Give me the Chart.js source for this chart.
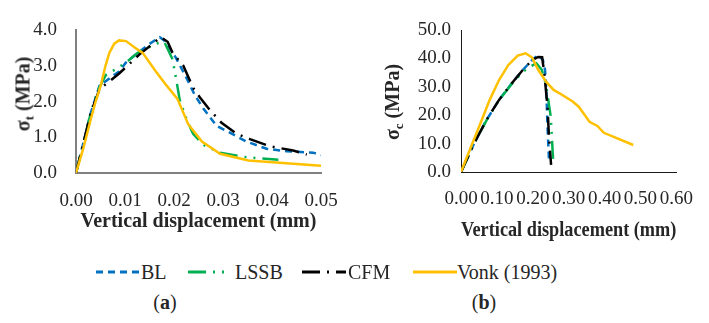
<!DOCTYPE html>
<html><head><meta charset="utf-8">
<script src="https://cdn.jsdelivr.net/npm/chart.js@4"></script>
<style>
html,body{margin:0;padding:0;background:#fff;}
#wrap{position:relative;width:709px;height:323px;overflow:hidden;font-family:'Liberation Serif','Times New Roman',serif;color:#262626;}
canvas{position:absolute;}
.ytitle{position:absolute;transform:translate(-50%,-50%) rotate(-90deg);white-space:nowrap;font-weight:bold;font-size:20px;line-height:1;font-family:'Liberation Serif',serif;}
.ytitle sub{font-size:13px;vertical-align:-4px;}
.lg{position:absolute;top:261px;font-size:20px;line-height:22px;white-space:nowrap;font-family:'Liberation Serif',serif;}
.ls{position:absolute;top:268px;}
.cap{position:absolute;top:290px;font-size:20px;line-height:24px;transform:translateX(-50%);font-family:'Liberation Serif',serif;}
</style></head>
<body><div id="wrap">
<canvas id="ca" width="355" height="240" style="left:0;top:0"></canvas>
<canvas id="cb" width="349" height="250" style="left:360px;top:0"></canvas>
<div class="ytitle" style="left:24px;top:94px">σ<sub>t</sub> (MPa)</div>
<div class="ytitle" style="left:393px;top:102px">σ<sub>c</sub> (MPa)</div>

<svg class="ls" style="left:96px" width="44" height="8"><line x1="0" y1="4" x2="44" y2="4" stroke="#0070C0" stroke-width="3" stroke-dasharray="7,5"/></svg>
<div class="lg" style="left:141px">BL</div>
<svg class="ls" style="left:188px" width="40" height="8"><line x1="0" y1="4" x2="40" y2="4" stroke="#00B050" stroke-width="3" stroke-dasharray="18,7,2,7,2,7"/></svg>
<div class="lg" style="left:235px">LSSB</div>
<svg class="ls" style="left:302px" width="44" height="8"><line x1="0" y1="4" x2="44" y2="4" stroke="#000000" stroke-width="3" stroke-dasharray="18,7,2,7"/></svg>
<div class="lg" style="left:348px">CFM</div>
<svg class="ls" style="left:413px" width="44" height="8"><line x1="0" y1="4" x2="44" y2="4" stroke="#FFC000" stroke-width="3"/></svg>
<div class="lg" style="left:457px">Vonk (1993)</div>

<div class="cap" style="left:165px">(<b>a</b>)</div>
<div class="cap" style="left:484px">(<b>b</b>)</div>
</div>
<script>
// ---- Chart (a): tensile ----
const seriesNames = ['BL', 'LSSB', 'CFM', 'Vonk (1993)'];
const aXTicks = ['0.00','0.01','0.02','0.03','0.04','0.05'];
const aYTicks = ['0.0','1.0','2.0','3.0','4.0'];
const aBL_x = [0, 0.0030, 0.0048, 0.0068, 0.0088, 0.0102, 0.0126, 0.0150, 0.0171, 0.0180, 0.0204, 0.0229, 0.0243, 0.0260, 0.0287, 0.0314, 0.0348, 0.0389, 0.0430, 0.0484, 0.0500];
const aBL_y = [0, 1.68, 2.45, 2.65, 2.85, 3.10, 3.37, 3.62, 3.81, 3.72, 3.23, 2.57, 2.17, 1.81, 1.32, 1.13, 0.88, 0.68, 0.61, 0.57, 0.50];
const aLSSB_x = [0, 0.0030, 0.0044, 0.0061, 0.0082, 0.0102, 0.0126, 0.0163, 0.0180, 0.0197, 0.0204, 0.0212, 0.0226, 0.0239, 0.0260, 0.0294, 0.0348, 0.0413];
const aLSSB_y = [0, 1.68, 2.30, 2.75, 2.92, 3.10, 3.37, 3.63, 3.68, 3.19, 2.66, 2.03, 1.50, 1.10, 0.79, 0.57, 0.44, 0.37];
const aCFM_x = [0, 0.0030, 0.0048, 0.0068, 0.0088, 0.0109, 0.0129, 0.0157, 0.0173, 0.0187, 0.0197, 0.0219, 0.0239, 0.0253, 0.0273, 0.0297, 0.0328, 0.0355, 0.0396, 0.0443, 0.0471];
const aCFM_y = [0, 1.68, 2.35, 2.57, 2.79, 3.06, 3.32, 3.63, 3.81, 3.68, 3.37, 3.01, 2.39, 2.12, 1.77, 1.41, 1.10, 0.95, 0.75, 0.63, 0.52];
const aVonk_x = [0, 0.0015, 0.0030, 0.0040, 0.0051, 0.0060, 0.0068, 0.0078, 0.0088, 0.0102, 0.0122, 0.0136, 0.0163, 0.0185, 0.0207, 0.0229, 0.0257, 0.0294, 0.0352, 0.0500];
const aVonk_y = [0, 0.70, 1.50, 2.00, 2.48, 3.00, 3.37, 3.63, 3.72, 3.70, 3.50, 3.37, 2.85, 2.45, 2.08, 1.37, 0.88, 0.54, 0.35, 0.20];

// ---- Chart (b): compressive ----
const bXTicks = ['0.00','0.10','0.20','0.30','0.40','0.50','0.60'];
const bYTicks = ['0.0','10.0','20.0','30.0','40.0','50.0'];
const bBL_x = [0, 0.0366, 0.071, 0.106, 0.145, 0.172, 0.198, 0.215, 0.228, 0.234, 0.237, 0.241, 0.245];
const bBL_y = [0, 10.1, 18.3, 25.4, 31.8, 35.9, 39.4, 41.2, 39.5, 36.0, 31.2, 16.0, 4.5];
const bLSSB_x = [0, 0.0366, 0.071, 0.106, 0.145, 0.172, 0.193, 0.210, 0.225, 0.237, 0.250, 0.257];
const bLSSB_y = [0, 10.0, 18.2, 25.3, 31.6, 35.2, 37.1, 38.3, 36.0, 30.6, 19.5, 3.5];
const bCFM_x = [0, 0.0366, 0.071, 0.106, 0.145, 0.172, 0.198, 0.215, 0.226, 0.232, 0.241, 0.245, 0.251];
const bCFM_y = [0, 10.1, 18.3, 25.4, 31.8, 35.9, 39.4, 40.5, 40.4, 34.8, 23.0, 12.4, 2.5];
const bVonk_x = [0, 0.028, 0.054, 0.080, 0.106, 0.132, 0.158, 0.180, 0.198, 0.215, 0.237, 0.258, 0.280, 0.311, 0.328, 0.358, 0.380, 0.398, 0.480];
const bVonk_y = [0, 8.9, 17.1, 25.4, 32.4, 37.7, 41.0, 41.8, 40.3, 36.0, 31.8, 28.9, 27.3, 24.8, 23.0, 17.7, 16.2, 13.8, 9.5];

const pts = (xs, ys) => xs.map((x, i) => ({x: x, y: ys[i]}));
const styles = [
  {color: '#0070C0', dash: [7, 5]},
  {color: '#00B050', dash: [18, 7, 2, 7, 2, 7]},
  {color: '#000000', dash: [18, 7, 2, 7]},
  {color: '#FFC000', dash: []}
];
function ds(data) {
  return data.map((d, i) => ({
    label: seriesNames[i], data: d, borderColor: styles[i].color, borderDash: styles[i].dash,
    borderWidth: 2.5, pointRadius: 0, tension: 0, fill: false, order: 3 - i
  }));
}
const tickFont = {family: 'Liberation Serif', size: 19};
const titleFont = {family: 'Liberation Serif', size: 20, weight: 'bold'};

function makeChart(id, sets, o) {
  return new Chart(document.getElementById(id), {
    type: 'line',
    data: {datasets: ds(sets)},
    options: {
      responsive: false, animation: false, events: [],
      layout: {padding: {top: o.padTop, right: o.padRight, left: 0, bottom: 0}},
      plugins: {legend: {display: false}, tooltip: {enabled: false}},
      scales: {
        x: {
          type: 'linear', min: o.xmin, max: o.xmax,
          afterFit: s => { s.height = o.xh; },
          grid: {display: false, drawTicks: false},
          border: {display: true, color: o.axisColor, width: o.axisWidth},
          ticks: {stepSize: o.xstep, autoSkip: false, maxRotation: 0, padding: o.xpad, color: '#262626', font: tickFont,
                  callback: (v) => o.xticks[Math.round((v - o.xmin) / o.xstep)]},
          title: {display: true, text: 'Vertical displacement (mm)', color: '#262626', font: titleFont, padding: {top: 0, bottom: o.tpad}}
        },
        y: {
          type: 'linear', min: 0, max: o.ymax,
          afterFit: s => { s.width = o.yw; },
          grid: {display: false, drawTicks: false},
          border: {display: true, color: o.axisColor, width: o.axisWidth},
          ticks: {stepSize: o.ystep, padding: o.ypad, color: '#262626', font: tickFont,
                  callback: (v) => o.yticks[Math.round(v / o.ystep)]}
        }
      }
    }
  });
}

makeChart('ca', [pts(aBL_x, aBL_y), pts(aLSSB_x, aLSSB_y), pts(aCFM_x, aCFM_y), pts(aVonk_x, aVonk_y)],
  {padTop: 23, padRight: 34, xh: 67, yw: 76, xmin: 0, xmax: 0.05, xstep: 0.01, ymax: 4, ystep: 1,
   xticks: aXTicks, yticks: aYTicks, xpad: 17, ypad: 19, tpad: 6, axisColor: '#808080', axisWidth: 2});
makeChart('cb', [pts(bBL_x, bBL_y), pts(bLSSB_x, bLSSB_y), pts(bCFM_x, bCFM_y), pts(bVonk_x, bVonk_y)],
  {padTop: 30, padRight: 18, xh: 78, yw: 101, xmin: 0, xmax: 0.6, xstep: 0.1, ymax: 50, ystep: 10,
   xticks: bXTicks, yticks: bYTicks, xpad: 16, ypad: 10, tpad: 7, axisColor: '#1a1a1a', axisWidth: 1});
</script>
</body></html>
